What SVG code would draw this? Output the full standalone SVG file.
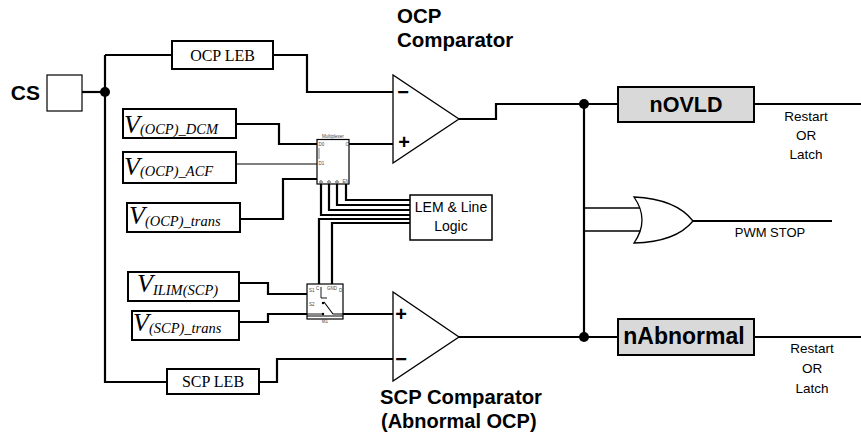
<svg xmlns="http://www.w3.org/2000/svg" width="861" height="441" viewBox="0 0 861 441">
<style>
.w{fill:none;stroke:#000;stroke-width:2.2;stroke-linejoin:miter}
.t{fill:none;stroke:#000;stroke-width:1.2}
.m{fill:none;stroke:#000;stroke-width:1.6}
.box{fill:#fff;stroke:#000;stroke-width:2}
.gbox{fill:#d9d9d9;stroke:#000;stroke-width:2}
.cmp{fill:#fff;stroke:#000;stroke-width:1.3}
.serif{font-family:"Liberation Serif","Times New Roman",serif}
.vi{font-family:"Liberation Serif","Times New Roman",serif;font-style:italic}
.sans{font-family:"Liberation Sans",Arial,sans-serif}
.b{font-weight:bold}
.tiny{font-family:"Liberation Sans",Arial,sans-serif;font-size:4.5px;fill:#444}
</style>
<rect width="861" height="441" fill="#fff"/>
<g id="connectors">
<path class="w" d="M82,92 H105"/>
<path class="w" d="M105,55 V382 H167"/>
<path class="w" d="M105,55 H172"/>
<path class="w" d="M273,55 H307 V92 H393"/>
<path class="w" d="M236,124 H279 V144 H317"/>
<path class="t" d="M236,164 H317"/>
<path class="w" d="M240,219 H283 V179 H317"/>
<path class="w" d="M349,144 H393"/>
<path class="w" d="M459,119 H496 V104 H618"/>
<path class="w" d="M754,104 H861"/>
<path class="w" d="M584,104 V337"/>
<path class="m" d="M584,208 H641"/>
<path class="m" d="M584,231 H641"/>
<path class="w" d="M693,221 H832"/>
<path class="w" d="M459,337 H618"/>
<path class="w" d="M754,337 H861"/>
<path class="w" d="M239,283 H268 V294 H307"/>
<path class="w" d="M239,322 H268 V314 H307"/>
<path class="w" d="M343,314 H393"/>
<path class="w" d="M259,382 H277 V359 H393"/>
<path class="w" d="M346,184 V200 H410"/>
<path class="w" d="M337,184 V205 H410"/>
<path class="w" d="M329,184 V210 H410"/>
<path class="w" d="M321,184 V215 H410"/>
<path class="w" d="M319,284 V219 H410"/>
<path class="w" d="M332,284 V223 H410"/>
<circle cx="105" cy="92" r="5"/>
<circle cx="584" cy="104" r="5"/>
<circle cx="584" cy="337" r="5"/>
</g>
<g id="cs">
<text class="sans b" x="40" y="100" font-size="21" text-anchor="end">CS</text>
<rect x="47" y="75" width="35" height="36" fill="#fff" stroke="#000" stroke-width="1.2"/>
</g>
<g id="ocp-leb">
<rect class="box" x="172" y="41" width="101" height="28"/>
<text class="serif" x="222.5" y="61" font-size="16" text-anchor="middle">OCP LEB</text>
</g>
<g id="scp-leb">
<rect class="box" x="167" y="369" width="92" height="25"/>
<text class="serif" x="213" y="387" font-size="16" text-anchor="middle">SCP LEB</text>
</g>
<g id="v-ocp-dcm">
<rect class="box" x="123" y="109" width="113" height="29"/>
<text class="vi" x="124" y="133"><tspan font-size="26">V</tspan><tspan font-size="14.5" dy="1">(OCP)_DCM</tspan></text>
</g>
<g id="v-ocp-acf">
<rect class="box" x="123" y="152" width="113" height="31"/>
<text class="vi" x="124" y="175"><tspan font-size="26">V</tspan><tspan font-size="14.5" dy="1">(OCP)_ACF</tspan></text>
</g>
<g id="v-ocp-trans">
<rect class="box" x="127" y="203" width="113" height="29"/>
<text class="vi" x="129" y="224"><tspan font-size="26">V</tspan><tspan font-size="14.5" dy="2">(OCP)_trans</tspan></text>
</g>
<g id="v-ilim-scp">
<rect class="box" x="128" y="272" width="111" height="29"/>
<text class="vi" x="137" y="292"><tspan font-size="26">V</tspan><tspan font-size="14.5" dy="3">ILIM(SCP)</tspan></text>
</g>
<g id="v-scp-trans">
<rect class="box" x="132" y="311" width="107" height="29"/>
<text class="vi" x="133" y="331"><tspan font-size="26">V</tspan><tspan font-size="14.5" dy="2">(SCP)_trans</tspan></text>
</g>
<g id="multiplexer">
<rect x="317" y="139.5" width="32" height="44.5" fill="#fff" stroke="#000" stroke-width="1.2"/>
<text class="tiny" x="333" y="137.5" text-anchor="middle">Multiplexer</text>
<text class="tiny" x="318.5" y="146">D0</text>
<text class="tiny" x="318.5" y="165">D1</text>
<text class="tiny" x="345.5" y="146">O</text>
<line x1="319" y1="148" x2="319" y2="159" stroke="#666" stroke-width="0.8"/>
<g fill="#fff" stroke="#000" stroke-width="0.6">
<circle cx="321" cy="182" r="1.3"/><circle cx="329" cy="182" r="1.3"/><circle cx="337" cy="182" r="1.3"/>
</g>
<text class="tiny" x="342.5" y="183">EN</text>
</g>
<g id="lem-line-logic">
<rect x="410" y="195" width="82" height="45" fill="#fff" stroke="#000" stroke-width="1.5"/>
<text class="sans" x="451" y="212" font-size="14" text-anchor="middle">LEM &amp; Line</text>
<text class="sans" x="451" y="231" font-size="14" text-anchor="middle">Logic</text>
</g>
<g id="switch-m1">
<rect x="307" y="284" width="36" height="35" fill="#fff" stroke="#000" stroke-width="1.2"/>
<line x1="307" y1="316" x2="343" y2="316" stroke="#000" stroke-width="1"/>
<path d="M321,287 V298 H327" fill="none" stroke="#000" stroke-width="0.9"/>
<path d="M307,314 H323" fill="none" stroke="#000" stroke-width="0.9"/>
<path d="M324,302 L333,314 H343" fill="none" stroke="#000" stroke-width="1.1"/>
<circle cx="323" cy="303" r="1.2"/><circle cx="323" cy="314" r="1.2"/>
<text class="tiny" x="309" y="292">S1</text>
<text class="tiny" x="309" y="306">S2</text>
<text class="tiny" x="316" y="290">C</text>
<text class="tiny" x="327" y="290">GND</text>
<text class="tiny" x="339" y="292">D</text>
<text class="tiny" x="325" y="323" text-anchor="middle">M1</text>
</g>
<g id="ocp-comparator">
<polygon class="cmp" points="393,75 393,163 459,119"/>
<text class="sans b" x="403" y="99" font-size="20" text-anchor="middle">−</text>
<text class="sans b" x="404" y="149" font-size="20" text-anchor="middle">+</text>
<text class="sans b" x="397" y="23" font-size="20.5">OCP</text>
<text class="sans b" x="397" y="47" font-size="20.5">Comparator</text>
</g>
<g id="scp-comparator">
<polygon class="cmp" points="393,292 393,381 459,337"/>
<text class="sans b" x="401" y="321" font-size="20" text-anchor="middle">+</text>
<text class="sans b" x="401" y="366" font-size="20" text-anchor="middle">−</text>
<text class="sans b" x="380" y="404" font-size="20.3">SCP Comparator</text>
<text class="sans b" x="381" y="428" font-size="20">(Abnormal OCP)</text>
</g>
<g id="novld">
<rect class="gbox" x="618" y="87" width="136" height="35"/>
<text class="sans b" x="686" y="112" font-size="21.5" text-anchor="middle">nOVLD</text>
<text class="sans" x="806" y="121" font-size="13.5" text-anchor="middle">Restart</text>
<text class="sans" x="806" y="140" font-size="13.5" text-anchor="middle">OR</text>
<text class="sans" x="806" y="159" font-size="13.5" text-anchor="middle">Latch</text>
</g>
<g id="nabnormal">
<rect class="gbox" x="618" y="319" width="136" height="36"/>
<text class="sans b" x="684" y="344" font-size="23" text-anchor="middle">nAbnormal</text>
<text class="sans" x="812" y="353" font-size="13.5" text-anchor="middle">Restart</text>
<text class="sans" x="812" y="373" font-size="13.5" text-anchor="middle">OR</text>
<text class="sans" x="812" y="393" font-size="13.5" text-anchor="middle">Latch</text>
</g>
<g id="or-gate">
<path d="M634,197 Q650,220 634,243 Q676,242 693,221 Q676,199 634,197 Z" fill="#fff" stroke="#000" stroke-width="1.3"/>
<text class="sans" x="770" y="237" font-size="13" text-anchor="middle">PWM STOP</text>
</g>
</svg>
